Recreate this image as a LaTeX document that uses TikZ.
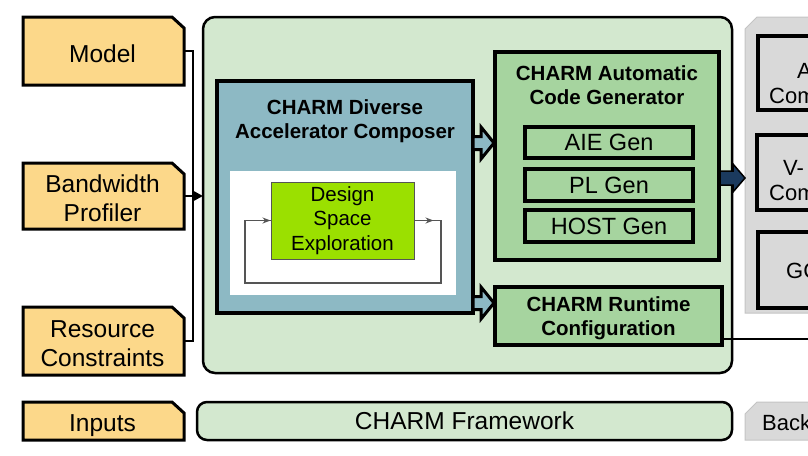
\documentclass[tikz,border=0pt]{standalone}
\usepackage{fontspec}
\setmainfont{Liberation Sans}
\usetikzlibrary{arrows.meta}
\definecolor{inyellow}{HTML}{FCD88A}
\definecolor{panelgreen}{HTML}{D3E8CF}
\definecolor{composerblue}{HTML}{8DB9C4}
\definecolor{gengreen}{HTML}{A6D49F}
\definecolor{dsegreen}{HTML}{9BE000}
\definecolor{dsegray}{HTML}{555555}
\definecolor{backgray}{HTML}{D9D9D9}
\definecolor{backedge}{HTML}{C4C4C4}
\definecolor{navy}{HTML}{1B3A5E}
\begin{document}
\begin{tikzpicture}[x=1pt,y=-1pt,line join=miter,
  inshape/.style={fill=inyellow,draw=black,line width=3pt},
  inanchor/.style={inner sep=0pt,outer sep=0pt},
  intext/.style={font=\fontsize{24.5}{29}\selectfont,align=center,inner sep=0pt,outer sep=0pt,text depth=0pt},
  panelbox/.style={draw=black,fill=panelgreen,line width=2.5pt,rounded corners=12pt,outer sep=0pt,inner sep=0pt},
  genbox/.style={draw=black,fill=gengreen,line width=3.5pt,outer sep=0pt,inner sep=0pt},
  gentext/.style={font=\fontsize{23.5}{28}\selectfont},
  titletext/.style={font=\fontsize{20.5}{24}\selectfont\bfseries,align=center,inner sep=0pt},
  conn/.style={draw=black,line width=2.5pt},
  loopline/.style={draw=dsegray,line width=1.3pt},
  blockarrow/.style={fill=composerblue,draw=black,line width=3pt},
  backshape/.style={fill=backgray,draw=backedge,line width=1pt},
  backbox/.style={draw=black,fill=backgray,line width=3.5pt,outer sep=0pt,inner sep=0pt},
  backtext/.style={font=\fontsize{22}{26}\selectfont,inner sep=0pt,anchor=base west}]
\useasboundingbox (0,0) rectangle (808,455);
\clip (0,0) rectangle (808,455);

% ---------- inputs ----------
\draw[inshape] (23,17) -- (172,17) -- (184,28) -- (184,85) -- (23,85) -- cycle;
\node[inanchor,minimum width=161,minimum height=68] (model) at (103.5,51) {};
\node[intext] (modeltext) at (102.5,54) {Model};
\draw[inshape] (23,163) -- (172,163) -- (184,174) -- (184,229) -- (23,229) -- cycle;
\node[inanchor,minimum width=161,minimum height=66] (bw) at (103.5,196) {};
\node[intext] (bwtext) at (102.5,198.5) {Bandwidth\\Profiler};
\draw[inshape] (23,307) -- (172,307) -- (184,318) -- (184,375) -- (23,375) -- cycle;
\node[inanchor,minimum width=161,minimum height=68] (res) at (103.5,341) {};
\node[intext] (restext) at (102.5,343.5) {Resource\\Constraints};
\draw[inshape] (23,402) -- (172,402) -- (184,413) -- (184,440) -- (23,440) -- cycle;
\node[inanchor,minimum width=161,minimum height=38] (inputs) at (103.5,421) {};
\node[intext] (inputstext) at (102.5,423.5) {Inputs};

% ---------- main panel ----------
\node[panelbox,minimum width=529,minimum height=356] (panel) at (467.5,195) {};
\node[panelbox,rounded corners=10pt,minimum width=535,minimum height=38,
      font=\fontsize{24.5}{29}\selectfont] (framework) at (464.5,421) {CHARM Framework};

% connectors from inputs
\draw[conn] (model.east) -- ++(9,0) |- (res.east);
\draw[conn,-{Triangle[length=9pt,width=9pt]}] (bw.east) -- (bw.east -| panel.west);

% ---------- composer ----------
\node[draw=black,fill=composerblue,line width=4pt,minimum width=256,minimum height=232,outer sep=0pt] (composer) at (345,197) {};
\node[titletext] (composertitle) at (345,121) {CHARM Diverse\\Accelerator Composer};
\node[fill=white,minimum width=226,minimum height=124,inner sep=0pt] (dsearea) at (343,233) {};
\node[draw=dsegray,line width=1pt,fill=dsegreen,minimum width=143,minimum height=77,inner sep=0pt,
      font=\fontsize{20.5}{24.5}\selectfont,align=center] (dse) at (342.5,220.5) {Design\\Space\\Exploration};
\coordinate (loopR) at (441,283);
\coordinate (loopL) at (245,283);
\draw[loopline] (dse.east) -| (loopR) -- (loopL) |- (dse.west);
\draw[loopline,-{Stealth[length=8pt,width=6pt]}] (loopL |- dse.west) -- (dse.west);
\draw[loopline,-{Stealth[length=8pt,width=6pt]}] (dse.east) -- ++(19,0);

% ---------- code generator ----------
\node[genbox,minimum width=224,minimum height=208] (codegen) at (607,156) {};
\node[titletext] (codegentitle) at (607,85) {CHARM Automatic\\Code Generator};
\node[genbox,gentext,minimum width=168,minimum height=31] (aie) at (609,142.5) {AIE Gen};
\node[genbox,gentext,minimum width=168,minimum height=32] (pl) at (609,185) {PL Gen};
\node[genbox,gentext,minimum width=168,minimum height=32] (host) at (609,226) {HOST Gen};

% ---------- runtime ----------
\node[genbox,minimum width=227,minimum height=58] (runtime) at (608.5,316) {};
\node[titletext] (runtimetitle) at (608.5,318) {CHARM Runtime\\Configuration};

% block arrows composer -> codegen / runtime
\draw[blockarrow] (473,136.5) -- (481,136.5) -- (481,127) -- (494,143) -- (481,159) -- (481,149.5) -- (473,149.5) -- cycle;
\draw[blockarrow] (473,296.5) -- (481,296.5) -- (481,287) -- (494,303) -- (481,319) -- (481,309.5) -- (473,309.5) -- cycle;

% ---------- backend panel ----------
\draw[backshape] (745,29) -- (757,17) -- (830,17) -- (830,313) -- (745,313) -- cycle;
\node[backbox,minimum width=118,minimum height=74] (aiec) at (817,73) {};
\node[backbox,minimum width=118,minimum height=75] (vppc) at (816,172.5) {};
\node[backbox,minimum width=118,minimum height=76] (gccc) at (817,270) {};
\node[backtext] (aietext1) at (797,78) {AIE};
\node[backtext] (aietext2) at (769,103) {Compiler};
\node[backtext] (vtext1) at (783,175) {V-};
\node[backtext] (vtext2) at (769,200) {Compiler};
\node[backtext] (gcctext) at (786,278) {GCC};
\draw[backshape] (745,414) -- (757,402) -- (830,402) -- (830,440) -- (745,440) -- cycle;
\node[backtext] (backend) at (762,430) {Backend};

% dark arrow codegen -> backend
\draw[fill=navy,draw=black,line width=1.5pt] (720,171) -- (733,171) -- (733,164) -- (745,178) -- (733,192) -- (733,185) -- (720,185) -- cycle;

% runtime -> backend line
\draw[conn,line width=2pt] (runtime.east |- 0,339) -- (808,339);
\end{tikzpicture}
\end{document}
